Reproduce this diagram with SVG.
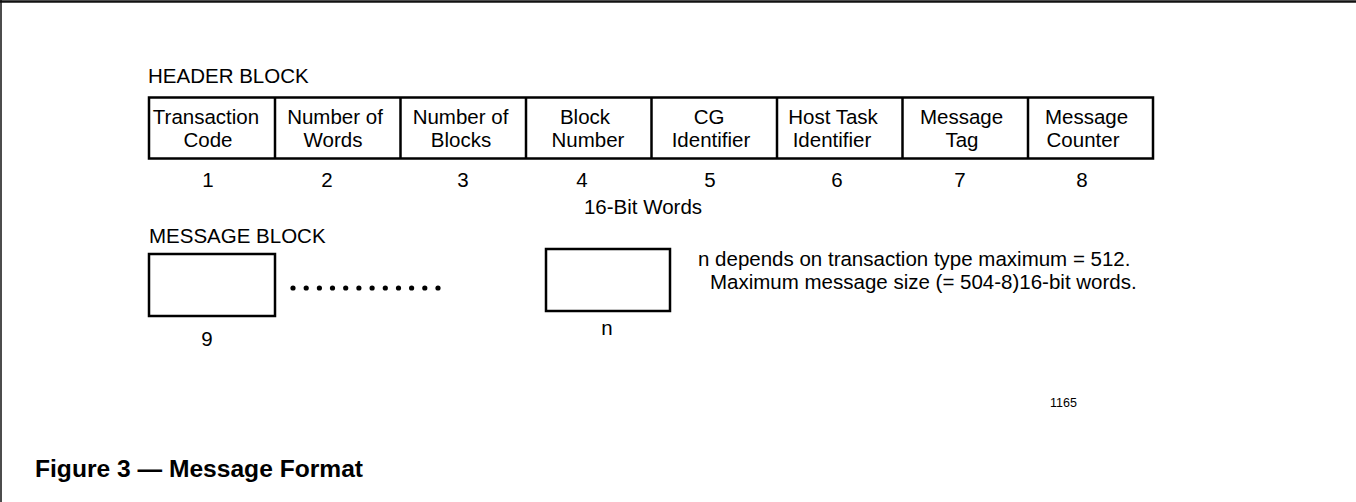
<svg xmlns="http://www.w3.org/2000/svg" width="1356" height="502" viewBox="0 0 1356 502">
<style>
.t{font-family:"Liberation Sans",Arial,sans-serif;font-size:20.5px;fill:#000}
.c{text-anchor:middle}
.box{fill:#fff;stroke:#000;stroke-width:2.5}
.div{stroke:#000;stroke-width:2.5}
.dot{fill:#000}
</style>
<rect width="1356" height="502" fill="#fff"/>
<g id="frame">
<line x1="0" y1="1.5" x2="1356" y2="1.5" stroke="#111" stroke-width="2.5"/>
<line x1="1" y1="0" x2="1" y2="502" stroke="#111" stroke-width="1.5"/>
</g>
<text class="t" x="148" y="83">HEADER BLOCK</text>
<g id="header">
<rect class="box" x="149" y="97.5" width="1004" height="61"/>
<line class="div" x1="275" y1="97.5" x2="275" y2="158.5"/>
<line class="div" x1="400.5" y1="97.5" x2="400.5" y2="158.5"/>
<line class="div" x1="526" y1="97.5" x2="526" y2="158.5"/>
<line class="div" x1="651.5" y1="97.5" x2="651.5" y2="158.5"/>
<line class="div" x1="777" y1="97.5" x2="777" y2="158.5"/>
<line class="div" x1="902.5" y1="97.5" x2="902.5" y2="158.5"/>
<line class="div" x1="1028" y1="97.5" x2="1028" y2="158.5"/>
</g>
<g id="cell1"><text class="t c" x="206" y="124">Transaction</text><text class="t c" x="208" y="147">Code</text><text class="t c" x="208" y="187">1</text></g>
<g id="cell2"><text class="t c" x="335" y="124">Number of</text><text class="t c" x="333" y="147">Words</text><text class="t c" x="327" y="187">2</text></g>
<g id="cell3"><text class="t c" x="460.5" y="124">Number of</text><text class="t c" x="461" y="147">Blocks</text><text class="t c" x="463" y="187">3</text></g>
<g id="cell4"><text class="t c" x="585" y="124">Block</text><text class="t c" x="588" y="147">Number</text><text class="t c" x="582" y="187">4</text></g>
<g id="cell5"><text class="t c" x="709" y="124">CG</text><text class="t c" x="711" y="147">Identifier</text><text class="t c" x="710" y="187">5</text></g>
<g id="cell6"><text class="t c" x="833" y="124">Host Task</text><text class="t c" x="832" y="147">Identifier</text><text class="t c" x="837" y="187">6</text></g>
<g id="cell7"><text class="t c" x="961.5" y="124">Message</text><text class="t c" x="962" y="147">Tag</text><text class="t c" x="960" y="187">7</text></g>
<g id="cell8"><text class="t c" x="1086.5" y="124">Message</text><text class="t c" x="1083" y="147">Counter</text><text class="t c" x="1082" y="187">8</text></g>
<text class="t c" x="643" y="214">16-Bit Words</text>
<text class="t" x="149" y="243">MESSAGE BLOCK</text>
<g id="block9"><rect class="box" x="149" y="254" width="126" height="62"/><text class="t c" x="207" y="346">9</text></g>
<g id="dots">
<circle class="dot" cx="293" cy="288" r="2.6"/><circle class="dot" cx="306.2" cy="288" r="2.6"/><circle class="dot" cx="319.4" cy="288" r="2.6"/><circle class="dot" cx="332.5" cy="288" r="2.6"/><circle class="dot" cx="345.7" cy="288" r="2.6"/><circle class="dot" cx="358.9" cy="288" r="2.6"/><circle class="dot" cx="372.1" cy="288" r="2.6"/><circle class="dot" cx="385.3" cy="288" r="2.6"/><circle class="dot" cx="398.5" cy="288" r="2.6"/><circle class="dot" cx="411.6" cy="288" r="2.6"/><circle class="dot" cx="424.8" cy="288" r="2.6"/><circle class="dot" cx="438" cy="288" r="2.6"/>
</g>
<g id="blockn"><rect class="box" x="546" y="249" width="124" height="62"/><text class="t c" x="607" y="335">n</text></g>
<text class="t" x="698" y="266">n depends on transaction type maximum = 512.</text>
<text class="t" x="710" y="289">Maximum message size (= 504-8)16-bit words.</text>
<text class="t" x="1050" y="407" style="font-size:12.5px">1165</text>
<text class="t" x="35" y="477" style="font-weight:bold;font-size:23px" textLength="328" lengthAdjust="spacingAndGlyphs">Figure 3 — Message Format</text>
</svg>
